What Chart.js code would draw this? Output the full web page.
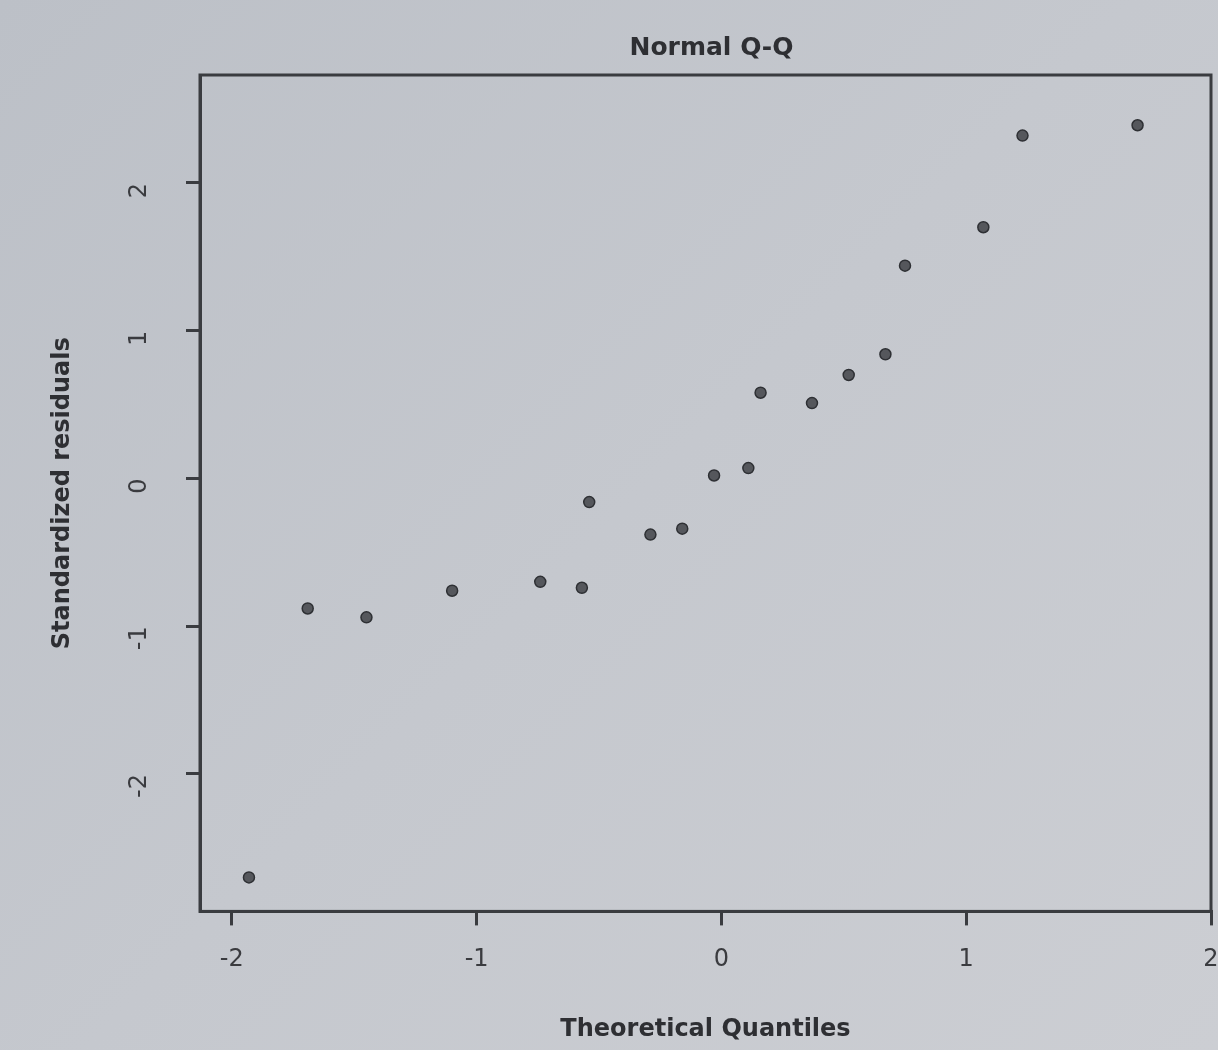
<!DOCTYPE html>
<html>
<head>
<meta charset="utf-8">
<script src="https://cdn.jsdelivr.net/npm/chart.js@4"></script>
<style>
html,body{margin:0;padding:0;background:#c4c7cc;}
#wrap{width:1218px;height:1050px;background:linear-gradient(135deg,#bcc0c7 0%,#c5c8ce 50%,#ccced3 100%);}
</style>
</head>
<body>
<div id="wrap"><canvas id="c" width="1218" height="1050"></canvas></div>
<script>
const chartTitle = "Normal Q-Q";
const xTitle = "Theoretical Quantiles";
const yTitle = "Standardized residuals";
const theoreticalQuantiles = [-1.93,-1.69,-1.45,-1.10,-0.74,-0.57,-0.54,-0.29,-0.16,-0.03,0.11,0.16,0.37,0.52,0.67,0.75,1.07,1.23,1.70];
const standardizedResiduals = [-2.70,-0.88,-0.94,-0.76,-0.70,-0.74,-0.16,-0.38,-0.34,0.02,0.07,0.58,0.51,0.70,0.84,1.44,1.70,2.32,2.39];
const xTicks = [-2,-1,0,1,2];
const yTicks = [-2,-1,0,1,2];

const points = theoreticalQuantiles.map((x,i)=>({x:x,y:standardizedResiduals[i]}));

const boxPlugin = {
  id:'box',
  afterDraw(chart){
    const a = chart.chartArea, ctx = chart.ctx;
    ctx.save();
    ctx.strokeStyle = '#3a3c40';
    ctx.lineWidth = 3;
    ctx.strokeRect(a.left, a.top, a.right - a.left, a.bottom - a.top);
    ctx.fillStyle = '#2e2f33';
    ctx.font = 'bold 25px "DejaVu Sans"';
    ctx.textAlign = 'center';
    ctx.textBaseline = 'middle';
    ctx.fillText(chartTitle, (a.left + a.right)/2 + 6, 48);
    ctx.restore();
  }
};

new Chart(document.getElementById('c'), {
  type:'scatter',
  data:{datasets:[{
    data:points,
    pointRadius:5.5,
    pointBackgroundColor:'#55575c',
    pointBorderColor:'#2e3034',
    pointBorderWidth:1.5
  }]},
  options:{
    responsive:false,
    animation:false,
    layout:{padding:{top:75,right:6,left:48,bottom:6}},
    plugins:{
      legend:{display:false},
      tooltip:{enabled:false},
      title:{display:false}
    },
    scales:{
      x:{
        type:'linear',min:-2.13,max:2.0,
        afterBuildTicks(s){s.ticks = xTicks.map(v=>({value:v}));},
        afterFit(s){s.paddingRight = 0;},
        ticks:{color:'#3a3b3f',font:{family:'DejaVu Sans',size:24},padding:20,maxRotation:0,minRotation:0},
        grid:{drawOnChartArea:false,drawTicks:true,tickLength:14,color:'#3a3c40',lineWidth:3},
        border:{display:true,color:'#3a3c40',width:3},
        title:{display:true,text:xTitle,color:'#2e2f33',font:{family:'DejaVu Sans',size:24,weight:'bold'},padding:{top:21,bottom:0}}
      },
      y:{
        type:'linear',min:-2.93,max:2.73,
        afterBuildTicks(s){s.ticks = yTicks.map(v=>({value:v}));},
        afterFit(s){s.width = 152;},
        ticks:{color:'#3a3b3f',font:{family:'DejaVu Sans',size:24},padding:46,minRotation:90,maxRotation:90},
        grid:{drawOnChartArea:false,drawTicks:true,tickLength:14,color:'#3a3c40',lineWidth:3},
        border:{display:true,color:'#3a3c40',width:3},
        title:{display:true,text:yTitle,color:'#2e2f33',font:{family:'DejaVu Sans',size:24,weight:'bold'},padding:{top:0,bottom:18}}
      }
    }
  },
  plugins:[boxPlugin]
});
</script>
</body>
</html>
